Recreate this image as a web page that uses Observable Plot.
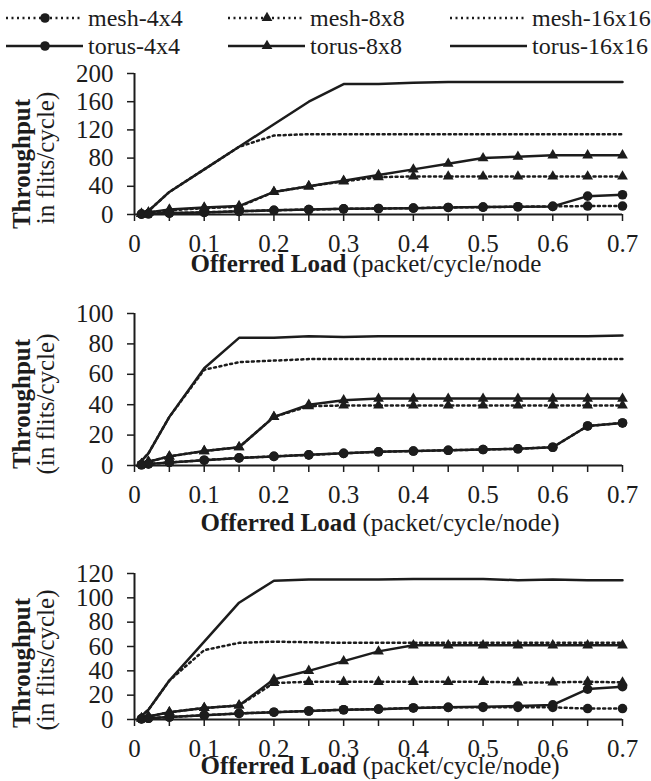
<!DOCTYPE html>
<html>
<head>
<meta charset="utf-8">
<script src="https://cdn.jsdelivr.net/npm/d3@7"></script>
<script src="https://cdn.jsdelivr.net/npm/@observablehq/plot@0.6"></script>
<style>
  body { margin: 0; background: #fff; }
  #wrap { position: relative; width: 651px; height: 781px; overflow: hidden; font-family: "Liberation Serif", "Times New Roman", serif; }
  #wrap > svg, #wrap > figure { position: absolute; left: 0; margin: 0; }
  #wrap text { font-family: "Liberation Serif", "Times New Roman", serif; }
</style>
</head>
<body>
<div id="wrap"></div>
<script>
// ---------- data ----------
const seriesNames = ["mesh-4x4", "mesh-8x8", "mesh-16x16", "torus-4x4", "torus-8x8", "torus-16x16"];
const loads = [0.01, 0.02, 0.05, 0.1, 0.15, 0.2, 0.25, 0.3, 0.35, 0.4, 0.45, 0.5, 0.55, 0.6, 0.65, 0.7];

const xTicks = [0, 0.1, 0.2, 0.3, 0.4, 0.5, 0.6, 0.7];
const xTickLabels = ["0", "0.1", "0.2", "0.3", "0.4", "0.5", "0.6", "0.7"];
const xMinorTicks = [0.05, 0.15, 0.25, 0.35, 0.45, 0.55, 0.65];

// panel 1 (top)
const p1Mesh4   = [0.5, 1, 2, 3, 4.5, 6, 7, 8, 8.5, 9, 10, 10.5, 11, 11.5, 12, 12];
const p1Mesh8   = [1, 3, 6, 9, 11, 32, 40, 47, 53, 54, 54, 54, 54, 54, 54, 54];
const p1Mesh16  = [2, 5, 32, 64, 96, 112, 114, 114, 114, 114, 114, 114, 114, 114, 114, 114];
const p1Torus4  = [0.5, 1, 2, 3, 4.5, 6, 7, 8, 8.5, 9, 10, 10.5, 11, 11.5, 26, 28];
const p1Torus8  = [1, 3, 7, 10, 12, 32, 40, 48, 56, 64, 72, 80, 82, 84, 84, 84];
const p1Torus16 = [2, 5, 32, 64, 96, 128, 160, 185, 185, 187, 188, 188, 188, 188, 188, 188];
const p1YTicks = [0, 40, 80, 120, 160, 200];

// panel 2 (middle)
const p2Mesh4   = [0.5, 1, 2, 3.5, 5, 6, 7, 8, 9, 9.5, 10, 10.5, 11, 12, 26, 28];
const p2Mesh8   = [1, 2.5, 6, 9.5, 12, 32, 39, 39.5, 39.5, 39.5, 39.5, 39.5, 39.5, 39.5, 39.5, 39.5];
const p2Mesh16  = [3, 8, 32, 63, 68, 69, 70, 70, 70, 70, 70, 70, 70, 70, 70, 70];
const p2Torus4  = [0.5, 1, 2, 3.5, 5, 6, 7, 8, 9, 9.5, 10, 10.5, 11, 12, 26, 28];
const p2Torus8  = [1, 2.5, 6, 9.5, 12, 32, 40, 43, 44, 44, 44, 44, 44, 44, 44, 44];
const p2Torus16 = [3, 8, 32, 64, 84, 84, 85, 84.5, 85, 85, 85, 85, 85, 85, 85, 85.5];
const p2YTicks = [0, 20, 40, 60, 80, 100];

// panel 3 (bottom)
const p3Mesh4   = [0.5, 1, 2, 3.5, 5, 6, 7, 8, 8.5, 9.5, 10, 10, 10, 10, 9, 9];
const p3Mesh8   = [1, 2.5, 6, 9.5, 11.5, 30, 31, 31, 31, 31, 31, 31, 30.5, 30.5, 31, 30.5];
const p3Mesh16  = [3, 8, 32, 57, 63, 64, 63.5, 63, 63, 63, 63, 63, 63, 63, 63, 63];
const p3Torus4  = [0.5, 1, 2, 3.5, 5, 6, 7, 8, 8.5, 9.5, 10, 10.5, 11, 12, 25, 27];
const p3Torus8  = [1, 2.5, 6, 9.5, 11.5, 33, 40, 48, 56, 61, 61, 61, 61, 61, 61, 61];
const p3Torus16 = [3, 8, 32, 64, 96, 114, 115, 115, 115, 115.5, 115.5, 115.5, 114.5, 115, 114.5, 114.5];
const p3YTicks = [0, 20, 40, 60, 80, 100, 120];

const xTitleBold = "Offerred Load";
const xTitleRest = " (packet/cycle/node)";
const yTitleBold = "Throughput";
const yTitleRest = "(in flits/cycle)";

// ---------- drawing ----------
const INK = "#1c1c1c";
const FONT = '"Liberation Serif", "Times New Roman", serif';
const wrap = document.getElementById("wrap");

function buildRows(vals) {
  const rows = [];
  seriesNames.forEach((s, i) => {
    loads.forEach((x, j) => rows.push({x, y: vals[i][j], s, mesh: s.startsWith("mesh"), k: s.split("-")[1]}));
  });
  return rows;
}

function panel(vals, yTicks, top, height, mt, mb) {
  const rows = buildRows(vals);
  const chart = Plot.plot({
    width: 651, height,
    marginLeft: 134, marginRight: 29, marginTop: mt, marginBottom: mb,
    x: {domain: [0, 0.7]},
    y: {domain: [0, d3.max(yTicks)]},
    style: {fontFamily: FONT, fontSize: "25px", color: INK, background: "transparent", overflow: "visible"},
    marks: [
      Plot.axisX({ticks: xMinorTicks, tickFormat: () => "", tickSize: 7, strokeWidth: 1.5, label: null}),
      Plot.axisX({ticks: xTicks, tickFormat: d => xTickLabels[xTicks.indexOf(d)], tickSize: 7, strokeWidth: 1.5, tickPadding: 13, label: null}),
      Plot.axisY({ticks: yTicks, tickSize: 7, strokeWidth: 1.5, tickPadding: 14, label: null}),
      Plot.line(rows.filter(d => d.mesh), {x: "x", y: "y", z: "s", stroke: INK, strokeWidth: 2.5, strokeDasharray: "2,3.5"}),
      Plot.line(rows.filter(d => !d.mesh), {x: "x", y: "y", z: "s", stroke: INK, strokeWidth: 2.5}),
      Plot.ruleX([0], {stroke: INK, strokeWidth: 2}),
      Plot.ruleY([0], {stroke: INK, strokeWidth: 2}),
      Plot.dot(rows.filter(d => d.k === "4x4"), {x: "x", y: "y", r: 4.8, fill: INK, symbol: "circle"}),
      Plot.dot(rows.filter(d => d.k === "8x8"), {x: "x", y: "y", r: 4, fill: INK, symbol: "triangle"})
    ]
  });
  chart.style.top = top + "px";
  d3.select(chart).selectAll("text").style("font-family", FONT);
  wrap.appendChild(chart);
}

panel([p1Mesh4, p1Mesh8, p1Mesh16, p1Torus4, p1Torus8, p1Torus16], p1YTicks, 58, 220, 15, 64);
panel([p2Mesh4, p2Mesh8, p2Mesh16, p2Torus4, p2Torus8, p2Torus16], p2YTicks, 290, 250, 23, 75);
panel([p3Mesh4, p3Mesh8, p3Mesh16, p3Torus4, p3Torus8, p3Torus16], p3YTicks, 555, 226, 18, 62);

// overlay: legend + axis titles
const ov = d3.select(wrap).append("svg")
  .attr("width", 651).attr("height", 781)
  .style("top", "0px").style("pointer-events", "none")
  .style("font-family", FONT).style("fill", INK);

const legendItems = [
  {name: "mesh-4x4",   col: 0, row: 0, dash: true,  sym: "circle"},
  {name: "mesh-8x8",   col: 1, row: 0, dash: true,  sym: "triangle"},
  {name: "mesh-16x16", col: 2, row: 0, dash: true,  sym: null},
  {name: "torus-4x4",  col: 0, row: 1, dash: false, sym: "circle"},
  {name: "torus-8x8",  col: 1, row: 1, dash: false, sym: "triangle"},
  {name: "torus-16x16",col: 2, row: 1, dash: false, sym: null}
];
const colX = [6, 228, 450];
const rowY = [18, 46];
legendItems.forEach(it => {
  const x0 = colX[it.col], y0 = rowY[it.row];
  const g = ov.append("g");
  g.append("line").attr("x1", x0).attr("x2", x0 + 77).attr("y1", y0).attr("y2", y0)
    .attr("stroke", INK).attr("stroke-width", 2.5).attr("stroke-dasharray", it.dash ? "2,3.5" : null);
  if (it.sym === "circle") g.append("circle").attr("cx", x0 + 39).attr("cy", y0).attr("r", 4.8).attr("fill", INK);
  if (it.sym === "triangle") g.append("path").attr("d", d3.symbol(d3.symbolTriangle, Math.PI * 16)()).attr("transform", `translate(${x0 + 39},${y0})`).attr("fill", INK);
  g.append("text").attr("x", x0 + 82).attr("y", y0).attr("dy", "0.33em").attr("font-size", 24).text(it.name);
});

function xTitle(cx, cy, closed) {
  const t = ov.append("text").attr("x", cx).attr("y", cy).attr("dy", "0.33em").attr("font-size", 25).attr("text-anchor", "middle");
  t.append("tspan").attr("font-weight", "bold").text(xTitleBold);
  t.append("tspan").text(closed ? xTitleRest : xTitleRest.replace(")", ""));
}
function yTitle(cy1, cy2, secondText) {
  ov.append("text").attr("transform", `translate(22,${cy1}) rotate(-90)`).attr("dy", "0.33em")
    .attr("font-size", 25).attr("font-weight", "bold").attr("text-anchor", "middle").text(yTitleBold);
  ov.append("text").attr("transform", `translate(46,${cy2}) rotate(-90)`).attr("dy", "0.33em")
    .attr("font-size", 25).attr("text-anchor", "middle").text(secondText);
}
xTitle(366, 264, false);
xTitle(380, 523, true);
xTitle(380, 766, true);
yTitle(164, 158, yTitleRest.slice(1));
yTitle(404, 404, yTitleRest);
yTitle(663, 660, yTitleRest);
</script>
</body>
</html>
